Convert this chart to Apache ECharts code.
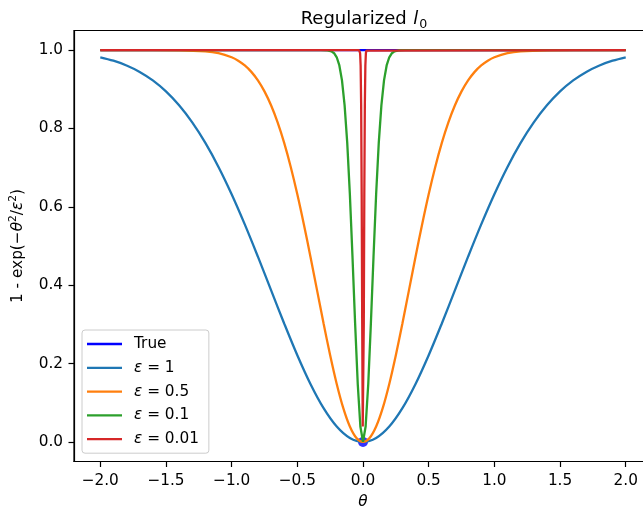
<!DOCTYPE html>
<html>
<head>
<meta charset="utf-8">
<script src="https://cdn.jsdelivr.net/npm/echarts@6/dist/echarts.min.js"></script>
<style>
html,body{margin:0;padding:0;background:#fff;}
#chart{width:643px;height:508px;}
</style>
</head>
<body>
<div id="chart"></div>
<script>
// ---- data ----
const xTicks = [-2.0, -1.5, -1.0, -0.5, 0.0, 0.5, 1.0, 1.5, 2.0];
const yTicks = [0.0, 0.2, 0.4, 0.6, 0.8, 1.0];

const trueX = [-2, 2];
const trueY = [1, 1];
const trueDot = [[0, 0]];

const eps1X = [-2.0,-1.9,-1.8,-1.7,-1.6,-1.5,-1.4,-1.3,-1.2,-1.1,-1.0,-0.9,-0.8,-0.7,-0.6,-0.5,-0.4,-0.3,-0.2,-0.1,0,
  0.1,0.2,0.3,0.4,0.5,0.6,0.7,0.8,0.9,1.0,1.1,1.2,1.3,1.4,1.5,1.6,1.7,1.8,1.9,2.0];
const eps1Y = [0.9817,0.9729,0.9608,0.9444,0.9227,0.8946,0.8591,0.8155,0.7631,0.7018,0.6321,0.5551,0.4727,0.3874,0.3023,0.2212,0.1479,0.0861,0.0392,0.0100,0,
  0.0100,0.0392,0.0861,0.1479,0.2212,0.3023,0.3874,0.4727,0.5551,0.6321,0.7018,0.7631,0.8155,0.8591,0.8946,0.9227,0.9444,0.9608,0.9729,0.9817];

const eps05X = [-2.0,-1.6,-1.4,-1.2,-1.1,-1.0,-0.95,-0.9,-0.85,-0.8,-0.75,-0.7,-0.65,-0.6,-0.55,-0.5,-0.45,-0.4,-0.35,-0.3,-0.25,-0.2,-0.15,-0.1,-0.05,0,
  0.05,0.1,0.15,0.2,0.25,0.3,0.35,0.4,0.45,0.5,0.55,0.6,0.65,0.7,0.75,0.8,0.85,0.9,0.95,1.0,1.1,1.2,1.4,1.6,2.0];
const eps05Y = [1.0,1.0,0.9996,0.9968,0.9921,0.9817,0.9729,0.9608,0.9444,0.9227,0.8946,0.8591,0.8155,0.7631,0.7018,0.6321,0.5551,0.4727,0.3874,0.3023,0.2212,0.1479,0.0861,0.0392,0.0100,0,
  0.0100,0.0392,0.0861,0.1479,0.2212,0.3023,0.3874,0.4727,0.5551,0.6321,0.7018,0.7631,0.8155,0.8591,0.8946,0.9227,0.9444,0.9608,0.9729,0.9817,0.9921,0.9968,0.9996,1.0,1.0];

const eps01X = [-2.0,-0.32,-0.28,-0.24,-0.22,-0.20,-0.18,-0.16,-0.14,-0.12,-0.10,-0.08,-0.06,-0.04,-0.02,0,
  0.02,0.04,0.06,0.08,0.10,0.12,0.14,0.16,0.18,0.20,0.22,0.24,0.28,0.32,2.0];
const eps01Y = [1.0,1.0,0.9996,0.9968,0.9921,0.9817,0.9608,0.9227,0.8591,0.7631,0.6321,0.4727,0.3023,0.1479,0.0392,0.0004,
  0.0392,0.1479,0.3023,0.4727,0.6321,0.7631,0.8591,0.9227,0.9608,0.9817,0.9921,0.9968,0.9996,1.0,1.0];

const eps001X = [-2.0,-0.03,-0.026,-0.022,-0.018,-0.014,-0.010,-0.006,-0.002,0.002,0.006,0.010,0.014,0.018,0.022,0.026,0.03,2.0];
const eps001Y = [1.0,1.0,0.9988,0.9921,0.9608,0.8591,0.6321,0.3023,0.0392,0.0392,0.3023,0.6321,0.8591,0.9608,0.9921,0.9988,1.0,1.0];

const seriesNames = ['True', 'ε = 1', 'ε = 0.5', 'ε = 0.1', 'ε = 0.01'];
const seriesColors = ['#0000ff', '#1f77b4', '#ff7f0e', '#2ca02c', '#d62728'];

// ---- chart ----
const pairs = (xs, ys) => xs.map((x, i) => [x, ys[i]]);
const FONT = 'DejaVu Sans';
const FS = 15.3;
const TITLE_FS = 18;
const LW = 2.3;

function lineSeries(name, color, data, smooth) {
  return {
    name: name, type: 'line', data: data, showSymbol: false, symbol: 'none',
    smooth: smooth || false, color: color,
    lineStyle: {color: color, width: LW}, emphasis: {disabled: true}, animation: false
  };
}

const chart = echarts.init(document.getElementById('chart'), null, {renderer: 'canvas'});
chart.setOption({
  animation: false,
  backgroundColor: '#fff',
  textStyle: {fontFamily: FONT},
  title: {
    text: '{n|Regularized }{i|l}{s|0}',
    left: 359, top: 2, textAlign: 'center',
    textStyle: {
      fontFamily: FONT, fontWeight: 'normal', fontSize: TITLE_FS, color: '#000',
      rich: {
        n: {fontFamily: FONT, fontSize: TITLE_FS, color: '#000', lineHeight: 24},
        i: {fontFamily: FONT, fontSize: TITLE_FS, fontStyle: 'italic', color: '#000', lineHeight: 24, padding: [0, 1, 0, 1]},
        s: {fontFamily: FONT, fontSize: 12.6, color: '#000', verticalAlign: 'bottom', lineHeight: 24}
      }
    }
  },
  grid: {
    left: 74, top: 30.5, width: 578, height: 431,
    outerBoundsMode: 'none', containLabel: false,
    show: true, borderColor: '#000', borderWidth: 1.2, backgroundColor: 'transparent'
  },
  legend: {
    orient: 'vertical', left: 82, top: 330,
    data: seriesNames,
    icon: 'rect', itemWidth: 35, itemHeight: 2.3, itemGap: 5.8,
    padding: [5, 10, 5, 5],
    backgroundColor: 'rgba(255,255,255,0.8)', borderColor: '#cccccc', borderWidth: 1, borderRadius: 3,
    formatter: n => n.replace('ε', '{e|ε}'),
    textStyle: {
      fontFamily: FONT, fontSize: FS, color: '#000', lineHeight: 18, padding: [0, 0, 0, 7],
      rich: {e: {fontFamily: FONT, fontSize: FS, fontStyle: 'italic', color: '#000', lineHeight: 18}}
    },
    selectedMode: false
  },
  xAxis: {
    type: 'value', min: -2.2, max: 2.2,
    name: 'θ', nameLocation: 'middle', nameGap: 33,
    nameTextStyle: {fontFamily: FONT, fontSize: FS, fontStyle: 'italic', color: '#000'},
    axisLine: {show: true, onZero: false, lineStyle: {color: '#000', width: 1.2}},
    axisTick: {show: true, inside: false, length: 5.5, customValues: xTicks, lineStyle: {color: '#000', width: 1.2}},
    axisLabel: {
      customValues: xTicks, margin: 12, color: '#000', fontFamily: FONT, fontSize: FS,
      formatter: v => v.toFixed(1).replace('-', '\u2212')
    },
    splitLine: {show: false}
  },
  yAxis: {
    type: 'value', min: -0.05, max: 1.05,
    name: '1 - exp({m|\u2212}{i|θ}{s|2}/{i|ε}{s|2})',
    nameLocation: 'middle', nameGap: 45, nameRotate: 90,
    nameTextStyle: {
      fontFamily: FONT, fontSize: FS, color: '#000', lineHeight: 20,
      rich: {
        m: {fontFamily: FONT, fontSize: FS, color: '#000', lineHeight: 20},
        i: {fontFamily: FONT, fontSize: FS, fontStyle: 'italic', color: '#000', lineHeight: 20},
        s: {fontFamily: FONT, fontSize: 10.7, color: '#000', verticalAlign: 'top', lineHeight: 20}
      }
    },
    axisLine: {show: true, onZero: false, lineStyle: {color: '#000', width: 1.2}},
    axisTick: {show: true, inside: false, length: 5.5, customValues: yTicks, lineStyle: {color: '#000', width: 1.2}},
    axisLabel: {
      customValues: yTicks, margin: 11, color: '#000', fontFamily: FONT, fontSize: FS,
      formatter: v => v.toFixed(1)
    },
    splitLine: {show: false}
  },
  series: [
    lineSeries(seriesNames[0], seriesColors[0], pairs(trueX, trueY)),
    lineSeries(seriesNames[1], seriesColors[1], pairs(eps1X, eps1Y), 0.35),
    lineSeries(seriesNames[2], seriesColors[2], pairs(eps05X, eps05Y), 0.3),
    lineSeries(seriesNames[3], seriesColors[3], pairs(eps01X, eps01Y)),
    lineSeries(seriesNames[4], seriesColors[4], pairs(eps001X, eps001Y)),
    {
      name: 'dot', type: 'scatter', data: trueDot, symbol: 'circle', symbolSize: 10,
      itemStyle: {color: '#0000ff'}, emphasis: {disabled: true}, z: 1, animation: false
    }
  ]
});
</script>
</body>
</html>
